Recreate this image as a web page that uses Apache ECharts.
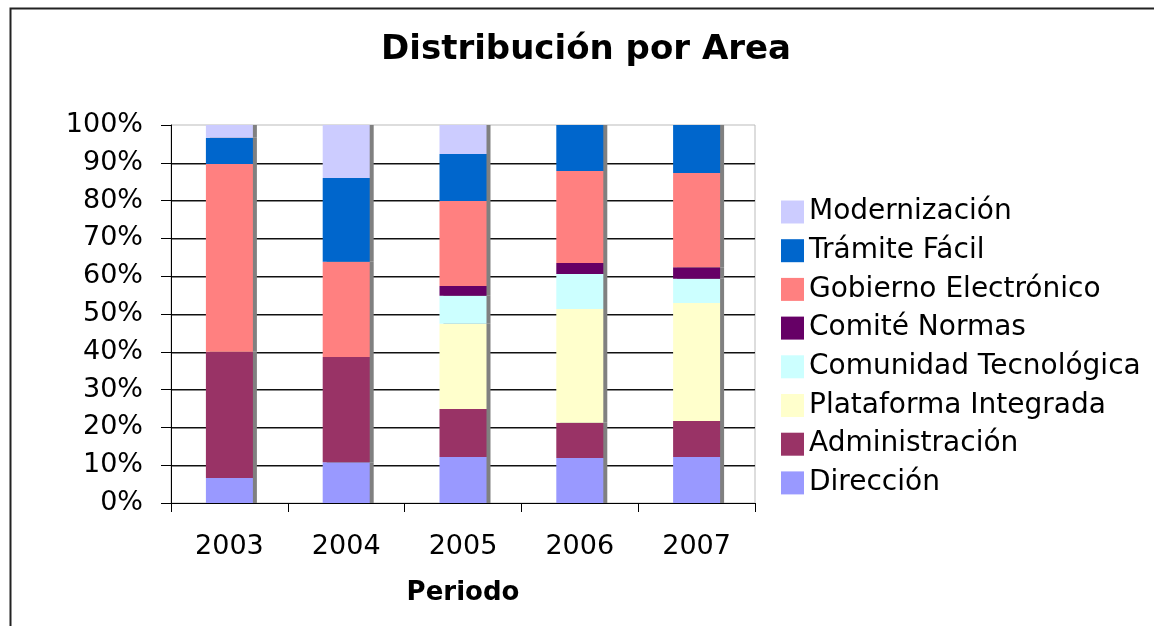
<!DOCTYPE html>
<html>
<head>
<meta charset="utf-8">
<script src="https://cdn.jsdelivr.net/npm/echarts@6/dist/echarts.min.js"></script>
<style>
html,body{margin:0;padding:0;background:#fff;}
#chart{width:1154px;height:626px;}
</style>
</head>
<body>
<div id="chart"></div>
<script>
const categories = ['2003', '2004', '2005', '2006', '2007'];
const seriesNames = ['Dirección', 'Administración', 'Plataforma Integrada', 'Comunidad Tecnológica', 'Comité Normas', 'Gobierno Electrónico', 'Trámite Fácil', 'Modernización'];
const direccion = [6.6, 10.8, 12.2, 11.9, 12.2];
const administracion = [33.4, 27.8, 12.7, 9.3, 9.5];
const plataforma = [0, 0, 22.5, 30.1, 31.2];
const comunidad = [0, 0, 7.4, 9.3, 6.4];
const comite = [0, 0, 2.6, 2.9, 3.1];
const gobierno = [49.7, 25.2, 22.5, 24.3, 24.9];
const tramite = [6.9, 22.2, 12.4, 12.2, 12.7];
const modernizacion = [3.4, 14.0, 7.7, 0, 0];
const colors = ['#9999FF', '#993366', '#FFFFCC', '#CCFFFF', '#660066', '#FF8080', '#0066CC', '#CCCCFF'];
const yTicks = [0, 10, 20, 30, 40, 50, 60, 70, 80, 90, 100];

const seriesData = [direccion, administracion, plataforma, comunidad, comite, gobierno, tramite, modernizacion];
const FONT = 'DejaVu Sans';

const chart = echarts.init(document.getElementById('chart'));
chart.setOption({
  animation: false,
  backgroundColor: '#fff',
  graphic: [{
    type: 'rect', left: 8, top: 6, z: 100,
    shape: {x: 0, y: 0, width: 1400, height: 900},
    style: {fill: 'none', stroke: '#222', lineWidth: 2}
  }],
  title: {
    text: 'Distribución por Area',
    left: 586, top: 33, textAlign: 'center', padding: 0,
    textStyle: {fontFamily: FONT, fontWeight: 'bold', fontSize: 34, color: '#000'}
  },
  legend: {
    orient: 'vertical',
    left: 781, top: 197, padding: 0,
    itemWidth: 23, itemHeight: 23, itemGap: 8.7,
    icon: 'rect',
    data: seriesNames.slice().reverse(),
    textStyle: {fontFamily: FONT, fontSize: 28, color: '#000', lineHeight: 30}
  },
  grid: {left: 171, right: 399, top: 125, bottom: 123, show: true, borderColor: '#bbb', borderWidth: 1, backgroundColor: 'transparent'},
  xAxis: {
    type: 'category', data: categories,
    name: 'Periodo', nameLocation: 'middle', nameGap: 77,
    nameTextStyle: {fontFamily: FONT, fontWeight: 'bold', fontSize: 26, color: '#000'},
    axisLine: {lineStyle: {color: '#000', width: 1}},
    axisTick: {show: true, length: 9, lineStyle: {color: '#000'}},
    axisLabel: {fontFamily: FONT, fontSize: 27, color: '#000', margin: 30}
  },
  yAxis: {
    type: 'value', min: 0, max: 100, interval: 10,
    axisLine: {show: true, lineStyle: {color: '#000', width: 1}},
    axisTick: {show: true, length: 10, lineStyle: {color: '#000'}},
    axisLabel: {fontFamily: FONT, fontSize: 27, color: '#000', margin: 28,
      formatter: function (v) { return yTicks.indexOf(v) >= 0 ? v + '%' : ''; }},
    splitLine: {show: true, showMaxLine: false, showMinLine: false,
      lineStyle: {color: '#111', width: 1, shadowColor: '#888', shadowOffsetY: 1, shadowBlur: 0}}
  },
  series: seriesNames.map(function (name, i) {
    return {
      name: name, type: 'bar', stack: 'total', barWidth: 47,
      data: seriesData[i],
      itemStyle: {color: colors[i], shadowColor: '#808080', shadowOffsetX: 4, shadowOffsetY: 0, shadowBlur: 0}
    };
  })
});
</script>
</body>
</html>
